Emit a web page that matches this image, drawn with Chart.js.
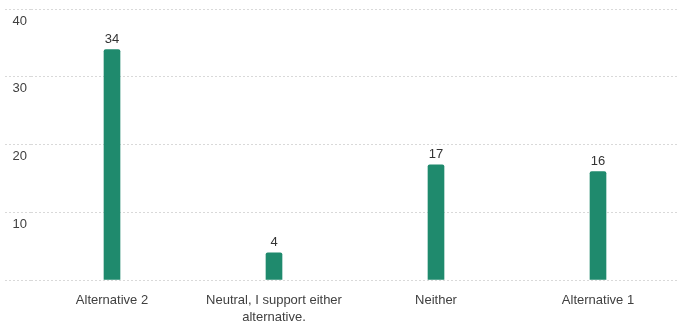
<!DOCTYPE html>
<html>
<head>
<meta charset="utf-8">
<script src="https://cdn.jsdelivr.net/npm/chart.js@4"></script>
<style>
  html, body { margin: 0; padding: 0; background: #fff; }
  #wrap { width: 679px; height: 321px; position: relative; }
</style>
</head>
<body>
<div id="wrap"><canvas id="chart"></canvas></div>
<script>
// survey answers and their vote counts
const categories = [
  'Alternative 2',
  ['Neutral, I support either', 'alternative.'],
  'Neither',
  'Alternative 1',
];
const votes = [34, 4, 17, 16];
const yTicks = [0, 10, 20, 30, 40];

const barColor = '#1f8a6d';
const textColor = '#404040';
const gridColor = '#d9d9d9';

// prints each bar's value just above it
const valueLabels = {
  id: 'valueLabels',
  afterDatasetsDraw(chart) {
    const ctx = chart.ctx;
    const meta = chart.getDatasetMeta(0);
    ctx.save();
    ctx.font = '13px "Liberation Sans", Arial, sans-serif';
    ctx.fillStyle = '#333';
    ctx.textAlign = 'center';
    ctx.textBaseline = 'bottom';
    meta.data.forEach((bar, i) => {
      ctx.fillText(String(chart.data.datasets[0].data[i]), bar.x, bar.y - 4);
    });
    ctx.restore();
  }
};

new Chart(document.getElementById('chart'), {
  type: 'bar',
  data: {
    labels: categories,
    datasets: [{
      data: votes,
      backgroundColor: barColor,
      borderRadius: { topLeft: 2, topRight: 2 },
      borderSkipped: 'bottom',
      barThickness: 16,
    }],
  },
  plugins: [valueLabels],
  options: {
    responsive: true,
    maintainAspectRatio: false,
    animation: false,
    layout: { padding: { left: 0, right: -4, top: 9, bottom: 0 } },
    plugins: {
      legend: { display: false },
      tooltip: { enabled: false },
    },
    scales: {
      x: {
        grid: { display: false },
        border: { display: false },
        ticks: {
          color: textColor,
          font: { family: '"Liberation Sans", Arial, sans-serif', size: 13, lineHeight: 1.3 },
          padding: 4,
          maxRotation: 0,
          autoSkip: false,
        },
        afterFit: (scale) => { scale.height = 41; },
      },
      y: {
        min: 0,
        max: 40,
        afterBuildTicks: (scale) => { scale.ticks = yTicks.map(v => ({ value: v })); },
        grid: {
          color: gridColor,
          lineWidth: 1,
          tickBorderDash: [2, 2],
          tickLength: 26,
        },
        border: { display: false, dash: [2, 2] },
        ticks: {
          color: textColor,
          font: { family: '"Liberation Sans", Arial, sans-serif', size: 13 },
          padding: -22,
          labelOffset: 12,
          callback: (v) => (v === 0 ? '' : v),
        },
        afterFit: (scale) => { scale.width = 31; },
      },
    },
  },
});
</script>
</body>
</html>
